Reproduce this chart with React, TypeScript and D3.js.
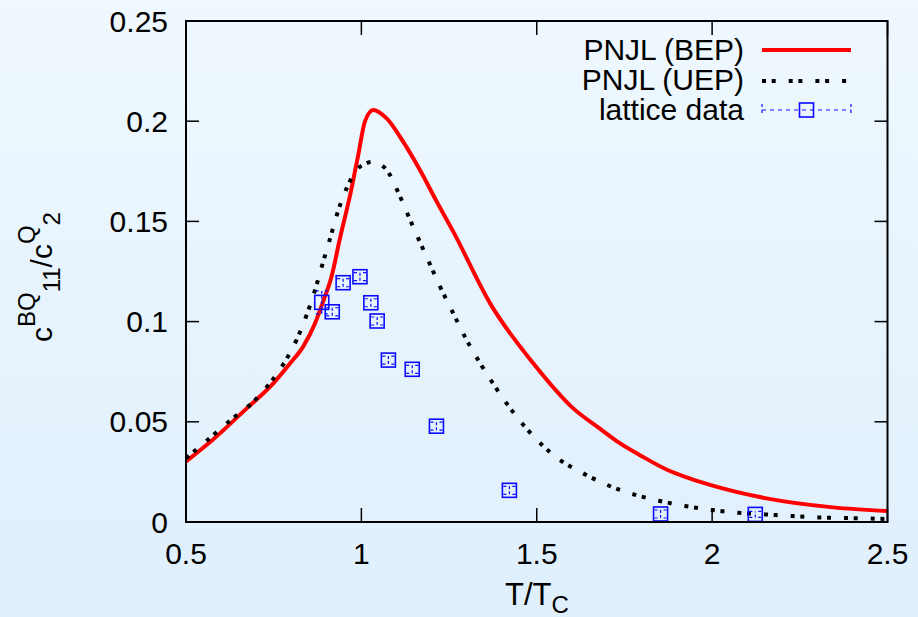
import React from "react";
import * as d3 from "d3";

// BEP curve (T/Tc, value)
const bepT = [0.5, 0.578, 0.673, 0.749, 0.797, 0.834, 0.868, 0.891, 0.915, 0.939, 0.968, 0.991, 1.01, 1.034, 1.072, 1.119, 1.167, 1.215, 1.262, 1.367, 1.49, 1.604, 1.68, 1.728, 1.8, 1.87, 1.93, 1.994, 2.155, 2.345, 2.5];
const bepV = [0.0302, 0.0413, 0.0567, 0.0692, 0.0792, 0.0875, 0.0992, 0.11, 0.1225, 0.1416, 0.1632, 0.1831, 0.1998, 0.2056, 0.2014, 0.1898, 0.1756, 0.1598, 0.1449, 0.1091, 0.0792, 0.0567, 0.0466, 0.0404, 0.0328, 0.0262, 0.0221, 0.0185, 0.0118, 0.0073, 0.0055];

// UEP curve
const uepT = [0.5, 0.578, 0.63, 0.687, 0.739, 0.782, 0.815, 0.844, 0.868, 0.887, 0.911, 0.93, 0.958, 0.991, 1.01, 1.033, 1.058, 1.077, 1.099, 1.129, 1.16, 1.191, 1.222, 1.262, 1.295, 1.333, 1.372, 1.414, 1.462, 1.566, 1.63, 1.694, 1.776, 1.851, 1.923, 1.999, 2.075, 2.151, 2.222, 2.303, 2.379, 2.5];
const uepV = [0.0318, 0.0434, 0.0512, 0.0592, 0.0692, 0.08, 0.0908, 0.1033, 0.1158, 0.1274, 0.1416, 0.1532, 0.1665, 0.1765, 0.1787, 0.1798, 0.1781, 0.1745, 0.1668, 0.1548, 0.1424, 0.1304, 0.1183, 0.1041, 0.0925, 0.0808, 0.07, 0.0592, 0.0484, 0.031, 0.0245, 0.019, 0.0138, 0.0105, 0.008, 0.006, 0.0046, 0.0038, 0.003, 0.0023, 0.002, 0.0015];

// lattice data
const latT = [0.887, 0.917, 0.948, 0.996, 1.027, 1.045, 1.077, 1.145, 1.214, 1.422, 1.853, 2.123];
const latV = [0.1096, 0.1049, 0.1194, 0.1224, 0.1094, 0.1003, 0.0808, 0.0762, 0.0478, 0.0158, 0.004, 0.0038];
const latE = [0.0057, 0.002, 0.002, 0.002, 0.002, 0.002, 0.002, 0.002, 0.002, 0.002, 0.002, 0.0015];

const xTicks = [0.5, 1, 1.5, 2, 2.5];
const xTickLabels = ["0.5", "1", "1.5", "2", "2.5"];
const yTicks = [0, 0.05, 0.1, 0.15, 0.2, 0.25];
const yTickLabels = ["0", "0.05", "0.1", "0.15", "0.2", "0.25"];
const legendLabels = ["PNJL (BEP)", "PNJL (UEP)", "lattice data"];

const W = 918, H = 617;
const L = 186, R = 887.5, T = 21, B = 522;
const FONT = "'Liberation Sans', Arial, Helvetica, sans-serif";
const FS = 30;

export default function App() {
  const x = d3.scaleLinear().domain([0.5, 2.5]).range([L, R]);
  const y = d3.scaleLinear().domain([0, 0.25]).range([B, T]);
  const line = d3
    .line<[number, number]>()
    .x((d) => x(d[0]))
    .y((d) => y(d[1]))
    .curve(d3.curveMonotoneX);
  const bep = bepT.map((t, i) => [t, bepV[i]] as [number, number]);
  const uep = uepT.map((t, i) => [t, uepV[i]] as [number, number]);
  const dotted = "4,5.7,4,13";
  const blue = "#0a0aff";
  const sq = 14;

  const legY = [50, 81, 110];
  const legTextY = [60, 90, 120];
  const legX1 = 762, legX2 = 851, legTextX = 744;

  return (
    <svg
      width={W}
      height={H}
      style={{ position: "absolute", left: 0, top: 0, display: "block" }}
      fontFamily={FONT}
    >
      <defs>
        <linearGradient id="bg" x1="0" y1="0" x2="0" y2="1">
          <stop offset="0" stopColor="#eff8fe" />
          <stop offset="1" stopColor="#dfeffc" />
        </linearGradient>
        <clipPath id="plot">
          <rect x={L} y={T} width={R - L} height={B - T} />
        </clipPath>
      </defs>
      <rect x={0} y={0} width={W} height={H} fill="url(#bg)" />

      {/* ticks */}
      {xTicks.map((t, i) => (
        <g key={"xt" + i}>
          <line x1={x(t)} x2={x(t)} y1={B} y2={B - 14} stroke="#000" strokeWidth={1.5} />
          <line x1={x(t)} x2={x(t)} y1={T} y2={T + 14} stroke="#000" strokeWidth={1.5} />
          <text x={x(t)} y={564} fontSize={FS} textAnchor="middle" fill="#000">
            {xTickLabels[i]}
          </text>
        </g>
      ))}
      {yTicks.map((t, i) => (
        <g key={"yt" + i}>
          <line x1={L} x2={L + 13} y1={y(t)} y2={y(t)} stroke="#000" strokeWidth={1.5} />
          <line x1={R} x2={R - 13} y1={y(t)} y2={y(t)} stroke="#000" strokeWidth={1.5} />
          <text x={168} y={y(t)} dy="0.35em" fontSize={FS} textAnchor="end" fill="#000">
            {yTickLabels[i]}
          </text>
        </g>
      ))}

      {/* curves */}
      <g clipPath="url(#plot)">
        <path d={line(bep) || ""} fill="none" stroke="#ff0000" strokeWidth={4} strokeLinejoin="round" />
        <path d={line(uep) || ""} fill="none" stroke="#000" strokeWidth={4} strokeDasharray={dotted} />
        {latT.map((t, i) => {
          const cx = x(t), cy = y(latV[i]);
          const y1 = y(latV[i] - latE[i]), y2 = y(latV[i] + latE[i]);
          return (
            <g key={"lat" + i} stroke={blue} fill="none">
              <line x1={cx} x2={cx} y1={y1} y2={y2} strokeWidth={1.2} strokeDasharray="3,2" />
              <line x1={cx - 6} x2={cx + 6} y1={y1} y2={y1} strokeWidth={1.2} strokeDasharray="3,6" />
              <line x1={cx - 6} x2={cx + 6} y1={y2} y2={y2} strokeWidth={1.2} strokeDasharray="3,6" />
              <rect x={cx - sq / 2} y={cy - sq / 2} width={sq} height={sq} strokeWidth={1.6} />
            </g>
          );
        })}
      </g>

      {/* frame */}
      <rect x={L} y={T} width={R - L} height={B - T} fill="none" stroke="#000" strokeWidth={2} />

      {/* legend */}
      {legendLabels.map((lab, i) => (
        <text key={"lg" + i} x={legTextX} y={legTextY[i]} fontSize={30} textAnchor="end" fill="#000">
          {lab}
        </text>
      ))}
      <line x1={legX1} x2={legX2} y1={legY[0]} y2={legY[0]} stroke="#ff0000" strokeWidth={4} />
      <line x1={legX1} x2={legX2} y1={legY[1]} y2={legY[1]} stroke="#000" strokeWidth={4} strokeDasharray={dotted} />
      <g stroke={blue} fill="none">
        <line x1={legX1} x2={legX2} y1={legY[2]} y2={legY[2]} strokeWidth={1.2} strokeDasharray="4,4" />
        <line x1={legX1} x2={legX1} y1={legY[2] - 6} y2={legY[2] + 6} strokeWidth={1.2} strokeDasharray="3,3" />
        <line x1={legX2} x2={legX2} y1={legY[2] - 6} y2={legY[2] + 6} strokeWidth={1.2} strokeDasharray="3,3" />
        <rect x={(legX1 + legX2) / 2 - sq / 2} y={legY[2] - sq / 2} width={sq} height={sq} strokeWidth={1.6} />
      </g>

      {/* axis labels */}
      <text x={505} y={605} fontSize={31} fill="#000">
        T/T
        <tspan fontSize={24} dy={8}>C</tspan>
      </text>
      <text transform="translate(52,342) rotate(-90)" fontSize={30} fill="#000">
        c
        <tspan fontSize={24} dy={-17}>BQ</tspan>
        <tspan fontSize={24} dy={25}>11</tspan>
        <tspan dy={-8}>/c</tspan>
        <tspan fontSize={24} dy={-17}>Q</tspan>
        <tspan fontSize={24} dy={25}>2</tspan>
      </text>
    </svg>
  );
}
